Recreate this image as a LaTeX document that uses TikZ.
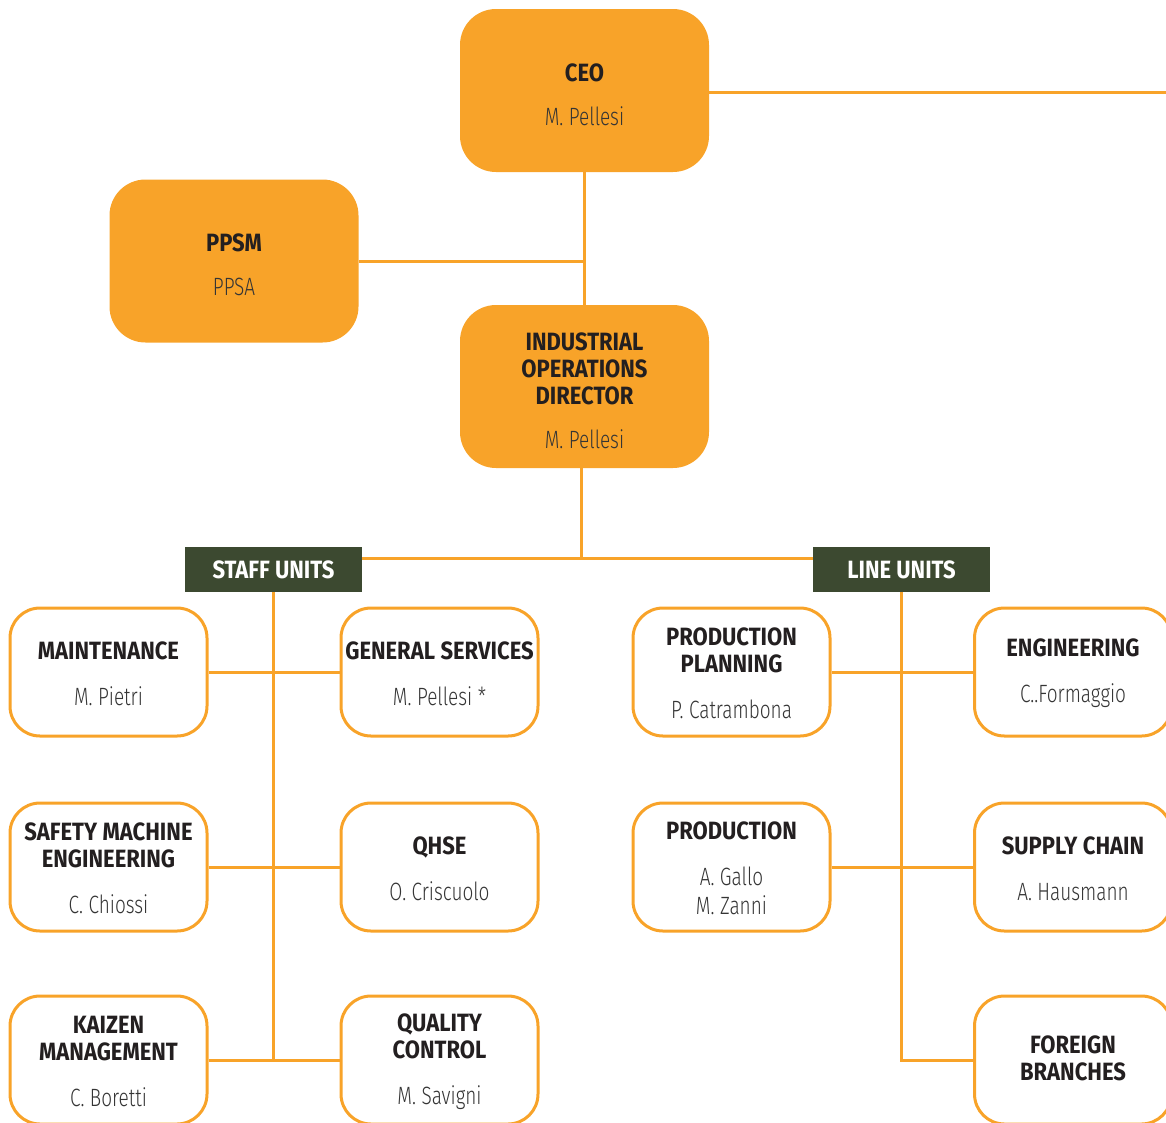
\documentclass[tikz,border=0pt]{standalone}
\usepackage{fontspec}
\setmainfont{Fira Sans}[FakeStretch=0.88]
\newfontfamily\lightfont{Fira Sans Light}[FakeStretch=0.76]
\definecolor{org}{HTML}{F8A329}
\definecolor{dgreen}{HTML}{3C4930}
\definecolor{ink}{HTML}{231F20}
\definecolor{nameink}{HTML}{353535}
\newcommand{\ttl}[1]{\mbox{\bfseries\color{ink}#1}}
\newcommand{\nm}[1]{\mbox{\lightfont\color{nameink}#1}}
\tikzset{
  tightspace/.style={execute at begin node={\spaceskip=5.5pt\xspaceskip=5.5pt\relax}},
  unitbox/.style={draw=org, line width=3pt, rounded corners=30pt, fill=white,
    minimum width=197pt, minimum height=128pt, inner sep=0pt, text width=195pt,
    align=center, text height=21pt, font=\fontsize{25}{27}\selectfont, tightspace},
  headbox/.style={fill=org, rounded corners=36pt, minimum width=249pt,
    minimum height=163pt, inner sep=0pt, text width=240pt, align=center,
    text height=26pt, font=\fontsize{25}{27}\selectfont, tightspace},
  tagbox/.style={fill=dgreen, minimum width=177pt, minimum height=45pt,
    inner sep=0pt, text=white, font=\bfseries\fontsize{25}{27}\selectfont},
  link/.style={draw=org, line width=3pt}
}
\begin{document}
\begin{tikzpicture}[x=1pt,y=-1pt]
\useasboundingbox (0,0) rectangle (1166,1122);
\clip (0,0) rectangle (1166,1122);
% head boxes
\node[headbox] (ceo) at (584.5,90.5) {\ttl{CEO}\\[17pt]\nm{M. Pellesi}};
\node[headbox] (ppsm) at (234,261) {\ttl{PPSM}\\[17pt]\nm{PPSA}};
\node[headbox] (iod) at (584.5,386.5) {\ttl{INDUSTRIAL}\\\ttl{OPERATIONS}\\\ttl{DIRECTOR}\\[17pt]\nm{M. Pellesi}};
\coordinate (ceoend) at (1166,92);
% tags
\node[tagbox] (staff) at (273.5,569.5) {STAFF UNITS};
\node[tagbox] (line) at (901.5,569.5) {LINE UNITS};
% staff units
\node[unitbox] (maint) at (108.5,672) {\ttl{MAINTENANCE}\\[19pt]\nm{M. Pietri}};
\node[unitbox] (gen) at (439.5,672) {\ttl{GENERAL SERVICES}\\[19pt]\nm{M. Pellesi *}};
\node[unitbox] (safety) at (108.5,867) {\ttl{SAFETY MACHINE}\\\ttl{ENGINEERING}\\[19pt]\nm{C. Chiossi}};
\node[unitbox] (qhse) at (439.5,867) {\ttl{QHSE}\\[19pt]\nm{O. Criscuolo}};
\node[unitbox] (kaizen) at (108.5,1060) {\ttl{KAIZEN}\\\ttl{MANAGEMENT}\\[19pt]\nm{C. Boretti}};
\node[unitbox] (qc) at (439.5,1060) {\ttl{QUALITY}\\\ttl{CONTROL}\\[19pt]\nm{M. Savigni}};
% line units
\node[unitbox] (pplan) at (731.5,672) {\ttl{PRODUCTION}\\\ttl{PLANNING}\\[19pt]\nm{P. Catrambona}};
\node[unitbox] (eng) at (1073,672) {\ttl{ENGINEERING}\\[19pt]\nm{C..Formaggio}};
\node[unitbox] (prod) at (731.5,867) {\ttl{PRODUCTION}\\[19pt]\nm{A. Gallo}\\[2pt]\nm{M. Zanni}};
\node[unitbox] (supply) at (1073,867) {\ttl{SUPPLY CHAIN}\\[19pt]\nm{A. Hausmann}};
\node[unitbox, text height=15pt] (foreign) at (1073,1060) {\ttl{FOREIGN}\\\ttl{BRANCHES}};
% connectors
\coordinate (j) at (581,558);
\draw[link] (ceo.east |- ceoend) -- (ceoend);
\draw[link] (ceo.south) -- (iod.north);
\draw[link] (ppsm.east) -- (ppsm.east -| ceo.south);
\draw[link] (iod.south -| j) -- (j);
\draw[link] (j -| staff.east) -- (j -| line.west);
\draw[link] (staff.south) -- (staff.south |- kaizen.east);
\draw[link] (maint.east) -- (gen.west);
\draw[link] (safety.east) -- (qhse.west);
\draw[link] (kaizen.east) -- (qc.west);
\draw[link] (line.south) -- (line.south |- foreign.west) -- (foreign.west);
\draw[link] (pplan.east) -- (eng.west);
\draw[link] (prod.east) -- (supply.west);
\end{tikzpicture}
\end{document}
